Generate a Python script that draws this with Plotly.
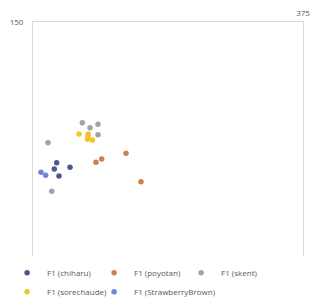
import plotly.graph_objects as go

series_names = ["F1 (chiharu)", "F1 (poyotan)", "F1 (skent)", "F1 (sorechaude)", "F1 (StrawberryBrown)"]
chiharu_x = [32.9, 29.6, 51.4, 36.1]
chiharu_y = [59.8, 55.8, 56.9, 51.3]
poyotan_x = [129.2, 95.4, 87.5, 150.0]
poyotan_y = [65.8, 62.2, 60.1, 47.6]
skent_x = [68.5, 79.2, 90.3, 90.3, 20.8, 26.0]
skent_y = [85.4, 82.2, 84.4, 77.8, 72.6, 41.5]
sorechaude_x = [63.9, 76.8, 75.7, 82.6, 76.4]
sorechaude_y = [78.2, 78.2, 74.8, 74.4, 76.9]
strawberry_x = [11.1, 17.6]
strawberry_y = [53.7, 51.7]
colors = ["#4a5894", "#cc8050", "#a3a3a3", "#f2c52e", "#7386d6"]

xs = [chiharu_x, poyotan_x, skent_x, sorechaude_x, strawberry_x]
ys = [chiharu_y, poyotan_y, skent_y, sorechaude_y, strawberry_y]

fig = go.Figure()
for name, x, y, c in zip(series_names, xs, ys, colors):
    fig.add_trace(go.Scatter(x=x, y=y, mode="markers", name=name,
                             marker=dict(color=c, size=5.5, line=dict(width=0))))

fig.update_layout(
    width=320, height=306,
    margin=dict(l=33, r=17, t=22, b=50, autoexpand=False),
    paper_bgcolor="white", plot_bgcolor="white",
    font=dict(family="Open Sans, Liberation Sans, sans-serif", size=8, color="#595959"),
    showlegend=True,
    legend=dict(orientation="h", x=-0.096, xanchor="left", y=-0.215, yanchor="bottom",
                entrywidth=42, entrywidthmode="pixels", itemwidth=30,
                font=dict(size=8, color="#595959"), tracegroupgap=0,
                bgcolor="rgba(0,0,0,0)"),
    xaxis=dict(range=[0, 375], side="top", tickvals=[375], ticktext=["375"],
               showgrid=False, zeroline=False, showline=True, linecolor="#d9d9d9",
               linewidth=1, ticks="", ticklabelstandoff=2, automargin=False),
    yaxis=dict(range=[0, 150], tickvals=[150], ticktext=["150"],
               showgrid=False, zeroline=False, showline=True, mirror=True,
               linecolor="#d9d9d9", linewidth=1, ticks="", ticklabelstandoff=7,
               automargin=False),
)
fig.write_html("out.html")
